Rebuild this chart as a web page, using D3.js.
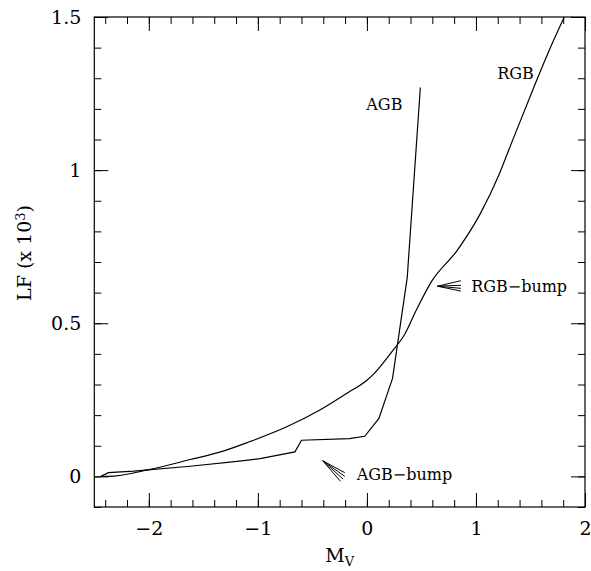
<!DOCTYPE html>
<html>
<head>
<meta charset="utf-8">
<script src="https://cdn.jsdelivr.net/npm/d3@7"></script>
<style>
  body { margin: 0; background: #fff; }
  text { font-family: "DejaVu Serif", "Liberation Serif", serif; fill: #000; }
</style>
</head>
<body>
<div id="chart"></div>
<script>
// luminosity functions (Mv, LF x 10^3)
var agbMv = [-2.44, -2.37, -2.14, -1.62, -1.17, -0.98, -0.66, -0.60, -0.16, -0.02, 0.11, 0.235, 0.37, 0.49];
var agbLF = [0, 0.012, 0.017, 0.033, 0.05, 0.058, 0.08, 0.118, 0.123, 0.131, 0.189, 0.32, 0.65, 1.27];

var rgbMv = [-2.44, -2.37, -2.0, -1.62, -1.35, -1.07, -0.74, -0.44, -0.19, 0.0, 0.05, 0.235, 0.34, 0.46, 0.59, 0.83, 1.04, 1.21, 1.30, 1.52, 1.67, 1.81];
var rgbLF = [0, 0, 0.022, 0.055, 0.079, 0.114, 0.161, 0.215, 0.27, 0.314, 0.33, 0.41, 0.46, 0.548, 0.635, 0.739, 0.858, 0.984, 1.065, 1.261, 1.39, 1.50];

var xTicks = [-2, -1, 0, 1, 2];
var yTicks = [0, 0.5, 1, 1.5];

// curve labels: text, Mv, LF, anchor
var labelText = ["AGB", "RGB", "RGB\u2212bump", "AGB\u2212bump"];
var labelMv = [0.16, 1.363, 0.956, -0.094];
var labelLF = [1.196, 1.297, 0.601, -0.013];
var labelAnchor = ["middle", "middle", "start", "start"];

// arrows: tip then the fan of tail ends
var rgbBumpTip = [0.647, 0.621];
var rgbBumpTails = [[0.862, 0.639], [0.862, 0.624], [0.862, 0.614], [0.862, 0.605]];
var agbBumpTip = [-0.405, 0.051];
var agbBumpTails = [[-0.243, -0.016], [-0.218, -0.009], [-0.203, 0.0], [-0.203, 0.012]];

var svgWidth = 591, svgHeight = 571;
var margin = { top: 17, right: 6, bottom: 64, left: 94.3 };
var width = svgWidth - margin.left - margin.right;
var height = svgHeight - margin.top - margin.bottom;

var svg = d3.select("#chart").append("svg")
  .attr("width", svgWidth)
  .attr("height", svgHeight);

var g = svg.append("g")
  .attr("transform", `translate(${margin.left}, ${margin.top})`);

var x = d3.scaleLinear().domain([-2.5, 2]).range([0, width]);
var y = d3.scaleLinear().domain([-0.1, 1.5]).range([height, 0]);

var xMinor = d3.range(-2.4, 2.0001, 0.2);
var yMinor = d3.range(-0.1, 1.5001, 0.1);

function styleAxis(sel) {
  sel.select(".domain").remove();
  sel.selectAll(".tick line").attr("stroke", "#000").attr("stroke-width", 1);
  sel.selectAll("text").style("font-size", "19px");
}

// bottom
g.append("g").attr("transform", `translate(0,${height})`)
  .call(d3.axisBottom(x).tickValues(xMinor).tickSize(-7).tickFormat(""))
  .call(styleAxis);
g.append("g").attr("transform", `translate(0,${height})`)
  .call(d3.axisBottom(x).tickValues(xTicks).tickSize(-14).tickPadding(15).tickFormat(d3.format("~g")))
  .call(styleAxis);
// top
g.append("g")
  .call(d3.axisTop(x).tickValues(xMinor).tickSize(-7).tickFormat(""))
  .call(styleAxis);
g.append("g")
  .call(d3.axisTop(x).tickValues(xTicks).tickSize(-14).tickFormat(""))
  .call(styleAxis);
// left
g.append("g")
  .call(d3.axisLeft(y).tickValues(yMinor).tickSize(-7).tickFormat(""))
  .call(styleAxis);
g.append("g")
  .call(d3.axisLeft(y).tickValues(yTicks).tickSize(-14).tickPadding(13).tickFormat(d3.format("~g")))
  .call(styleAxis);
// right
g.append("g").attr("transform", `translate(${width},0)`)
  .call(d3.axisRight(y).tickValues(yMinor).tickSize(-7).tickFormat(""))
  .call(styleAxis);
g.append("g").attr("transform", `translate(${width},0)`)
  .call(d3.axisRight(y).tickValues(yTicks).tickSize(-14).tickFormat(""))
  .call(styleAxis);

// frame
g.append("rect")
  .attr("width", width).attr("height", height)
  .attr("fill", "none").attr("stroke", "#000").attr("stroke-width", 1.2);

g.append("clipPath").attr("id", "plotclip")
  .append("rect").attr("width", width).attr("height", height);

var plot = g.append("g").attr("clip-path", "url(#plotclip)");

var agbLine = d3.line().x(d => x(d[0])).y(d => y(d[1]));
var rgbLine = d3.line().x(d => x(d[0])).y(d => y(d[1])).curve(d3.curveMonotoneX);

plot.append("path")
  .datum(d3.zip(agbMv, agbLF))
  .attr("d", agbLine)
  .attr("fill", "none")
  .attr("stroke", "#000")
  .attr("stroke-width", 1.2);

plot.append("path")
  .datum(d3.zip(rgbMv, rgbLF))
  .attr("d", rgbLine)
  .attr("fill", "none")
  .attr("stroke", "#000")
  .attr("stroke-width", 1.2);

// arrows
[[rgbBumpTip, rgbBumpTails], [agbBumpTip, agbBumpTails]].forEach(function (a) {
  g.selectAll(null)
    .data(a[1])
    .enter()
    .append("line")
    .attr("x1", x(a[0][0])).attr("y1", y(a[0][1]))
    .attr("x2", d => x(d[0])).attr("y2", d => y(d[1]))
    .attr("stroke", "#000")
    .attr("stroke-width", 1);
});

// curve labels
g.selectAll(null)
  .data(labelText)
  .enter()
  .append("text")
  .attr("x", (d, i) => x(labelMv[i]))
  .attr("y", (d, i) => y(labelLF[i]))
  .attr("text-anchor", (d, i) => labelAnchor[i])
  .style("font-size", "16px")
  .text(d => d);

// axis titles
var xt = svg.append("text")
  .attr("x", margin.left + width / 2)
  .attr("y", 562)
  .attr("text-anchor", "middle")
  .style("font-size", "19px");
xt.append("tspan").text("M");
xt.append("tspan").attr("dy", "0.3em").style("font-size", "13px").text("V");

var yt = svg.append("text")
  .attr("transform", "translate(31,253) rotate(-90)")
  .attr("text-anchor", "middle")
  .style("font-size", "19px");
yt.append("tspan").text("LF (x 10");
yt.append("tspan").attr("dy", "-0.45em").style("font-size", "13px").text("3");
yt.append("tspan").attr("dy", "0.3em").text(")");
</script>
</body>
</html>
